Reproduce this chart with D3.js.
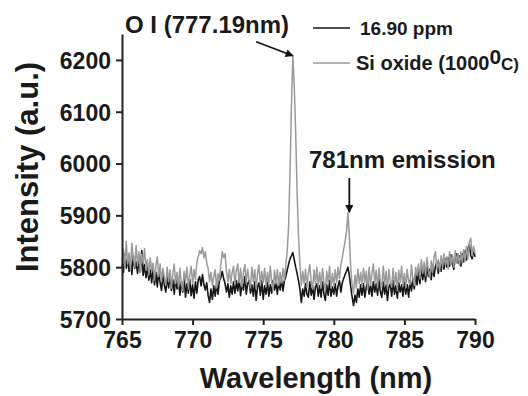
<!DOCTYPE html>
<html lang="en">
<head>
    <meta charset="UTF-8">
    <title>OES spectrum</title>
    <script src="https://cdn.jsdelivr.net/npm/d3@7"></script>
    <style>
        html, body {
            margin: 0;
            background: white;
        }
        svg text {
            font-family: "Liberation Sans", Arial, sans-serif;
            font-weight: bold;
            fill: #1a1a1a;
        }
    </style>
</head>
<body>
    <div id="vis"></div>
    <script>

        var width = 528
        var height = 396

        // wavelength grid, 0.1 nm steps from 765 to 790
        var wl_start = 765
        var wl_step = 0.1

        // 16.90 ppm (black)
        var ppm_values = [
            5805, 5790, 5825, 5798, 5818, 5792, 5812, 5786, 5822, 5798,
            5810, 5788, 5815, 5790, 5832, 5784, 5805, 5780, 5800, 5775,
            5795, 5770, 5798, 5766, 5790, 5762, 5792, 5770, 5755, 5786,
            5765, 5752, 5782, 5760, 5788, 5755, 5776, 5748, 5780, 5758,
            5774, 5746, 5772, 5752, 5780, 5742, 5768, 5750, 5776, 5745,
            5766, 5740, 5772, 5750, 5776, 5782, 5764, 5786, 5766, 5756,
            5770, 5745, 5732, 5758, 5738, 5764, 5744, 5768, 5748, 5774,
            5780, 5792, 5778, 5768, 5752, 5768, 5742, 5764, 5748, 5772,
            5750, 5774, 5754, 5778, 5745, 5770, 5756, 5782, 5748, 5768,
            5774, 5750, 5766, 5744, 5772, 5736, 5762, 5770, 5746, 5774,
            5738, 5764, 5748, 5772, 5744, 5766, 5750, 5774, 5756, 5770,
            5748, 5772, 5756, 5776, 5754, 5774, 5782, 5794, 5806, 5816,
            5822, 5828, 5814, 5800, 5788, 5774, 5758, 5732, 5758, 5744,
            5768, 5748, 5742, 5772, 5746, 5764, 5738, 5762, 5768, 5744,
            5764, 5742, 5772, 5748, 5736, 5766, 5746, 5774, 5744, 5762,
            5748, 5768, 5744, 5764, 5774, 5752, 5770, 5778, 5786, 5792,
            5800, 5784, 5762, 5742, 5726, 5746, 5732, 5758, 5742, 5766,
            5746, 5768, 5742, 5762, 5774, 5748, 5766, 5744, 5772, 5752,
            5768, 5746, 5776, 5752, 5742, 5772, 5748, 5766, 5736, 5762,
            5768, 5744, 5774, 5748, 5764, 5740, 5770, 5752, 5766, 5744,
            5772, 5748, 5766, 5742, 5774, 5754, 5778, 5758, 5788, 5766,
            5792, 5768, 5798, 5776, 5796, 5772, 5802, 5782, 5796, 5776,
            5804, 5782, 5802, 5810, 5788, 5808, 5792, 5814, 5796, 5816,
            5800, 5818, 5802, 5824, 5806, 5796, 5818, 5826, 5808, 5822,
            5802, 5826, 5810, 5832, 5814, 5836, 5844, 5822, 5816, 5834,
            5820
        ]

        // Si oxide 1000 C (gray)
        var oxide_values = [
            5812, 5835, 5798, 5850, 5806, 5828, 5795, 5846, 5818, 5800,
            5842, 5803, 5830, 5790, 5825, 5808, 5836, 5794, 5815, 5785,
            5818, 5792, 5808, 5775, 5802, 5820, 5782, 5806, 5772, 5798,
            5780, 5765, 5800, 5772, 5795, 5760, 5788, 5806, 5768, 5790,
            5762, 5798, 5770, 5755, 5792, 5772, 5800, 5758, 5785, 5802,
            5768, 5795, 5776, 5810, 5820, 5832, 5826, 5838, 5818, 5830,
            5808, 5798, 5772, 5790, 5765, 5782, 5795, 5760, 5788, 5775,
            5806, 5830, 5818, 5826, 5790, 5772, 5796, 5768, 5790, 5802,
            5766, 5794, 5806, 5770, 5798, 5762, 5790, 5805, 5768, 5796,
            5775, 5760, 5800, 5772, 5795, 5758, 5788, 5804, 5765, 5792,
            5770, 5798, 5762, 5790, 5766, 5802, 5772, 5755, 5794, 5768,
            5795, 5765, 5790, 5770, 5798, 5775, 5805, 5830, 5880, 5985,
            6110, 6208, 6150, 6060, 5945, 5860, 5805, 5765, 5792, 5768,
            5796, 5762, 5788, 5805, 5770, 5758, 5795, 5768, 5800, 5764,
            5790, 5760, 5798, 5772, 5755, 5792, 5768, 5802, 5760, 5788,
            5764, 5795, 5770, 5800, 5778, 5805, 5818, 5835, 5850, 5868,
            5905, 5860, 5798, 5765, 5750, 5785, 5760, 5796, 5768, 5790,
            5762, 5798, 5770, 5792, 5756, 5800, 5765, 5788, 5806, 5768,
            5794, 5760, 5798, 5772, 5762, 5802, 5766, 5792, 5758, 5796,
            5770, 5762, 5798, 5765, 5790, 5755, 5794, 5770, 5802, 5764,
            5788, 5760, 5796, 5772, 5766, 5804, 5778, 5765, 5800, 5785,
            5806, 5778, 5815, 5788, 5810, 5784, 5818, 5792, 5780, 5812,
            5790, 5820, 5830, 5796, 5815, 5792, 5822, 5800, 5826, 5804,
            5820, 5796, 5830, 5806, 5824, 5800, 5832, 5808, 5826, 5804,
            5830, 5808, 5834, 5812, 5840, 5816, 5848, 5856, 5822, 5840,
            5826
        ]

        var x_ticks = [765, 770, 775, 780, 785, 790]
        var y_ticks = [5700, 5800, 5900, 6000, 6100, 6200]

        var series_names = ["16.90 ppm", "Si oxide (1000"]
        var series_colours = ["#161616", "#9a9a9a"]

        var svg = d3.select('#vis')
                    .append('svg')
                        .attr('width', width)
                        .attr('height', height);

        var x_scale = d3.scaleLinear()
                    .domain([765, 790])
                    .range([122, 475]);

        var y_scale = d3.scaleLinear()
                    .domain([5700, 6250])
                    .range([319, 34]);

        function toPoints(values){
            return values.map(function(v, i){
                return { wl: wl_start + i * wl_step, v: v };
            });
        }

        var line = d3.line()
                    .x(function(d){ return x_scale(d.wl); })
                    .y(function(d){ return y_scale(d.v); });

        // black first, gray drawn over it
        svg.append('path')
            .datum(toPoints(ppm_values))
            .attr('fill', 'none')
            .attr('stroke', series_colours[0])
            .attr('stroke-width', 1.6)
            .attr('stroke-linejoin', 'round')
            .attr('d', line);

        svg.append('path')
            .datum(toPoints(oxide_values))
            .attr('fill', 'none')
            .attr('stroke', series_colours[1])
            .attr('stroke-width', 1.5)
            .attr('stroke-linejoin', 'round')
            .attr('d', line);

        // axes
        var x_axis = d3.axisBottom(x_scale)
                    .tickValues(x_ticks)
                    .tickSizeInner(6)
                    .tickSizeOuter(0)
                    .tickPadding(6)
                    .tickFormat(d3.format('d'));

        var x_minor = d3.axisBottom(x_scale)
                    .tickValues([767.5, 772.5, 777.5, 782.5, 787.5])
                    .tickSize(3)
                    .tickSizeOuter(0)
                    .tickFormat('');

        var y_axis = d3.axisLeft(y_scale)
                    .tickValues(y_ticks)
                    .tickSizeInner(6)
                    .tickSizeOuter(0)
                    .tickPadding(5)
                    .tickFormat(d3.format('d'));

        var y_minor = d3.axisLeft(y_scale)
                    .tickValues([5750, 5850, 5950, 6050, 6150])
                    .tickSize(3)
                    .tickSizeOuter(0)
                    .tickFormat('');

        var gx = svg.append('g')
            .attr('class', 'x axis')
            .attr('transform', 'translate(0,' + y_scale(5700) + ')');
        gx.call(x_minor);
        gx.call(x_axis);

        var gy = svg.append('g')
            .attr('class', 'y axis')
            .attr('transform', 'translate(' + x_scale(765) + ',0)');
        gy.call(y_minor);
        gy.call(y_axis);

        svg.selectAll('.axis path, .axis line')
            .attr('stroke', '#222')
            .attr('stroke-width', 2);

        svg.selectAll('.axis text')
            .attr('font-size', 23)
            .attr('font-family', '"Liberation Sans", Arial, sans-serif')
            .attr('font-weight', 'bold')
            .attr('fill', '#1a1a1a');

        gx.selectAll('text').attr('dy', '0.74em');
        gy.selectAll('text').attr('dy', '0.36em');

        // axis titles
        svg.append('text')
            .attr('x', 316)
            .attr('y', 388)
            .attr('text-anchor', 'middle')
            .attr('font-size', 29)
            .text('Wavelength (nm)');

        svg.append('text')
            .attr('transform', 'translate(38,167)rotate(-90)')
            .attr('text-anchor', 'middle')
            .attr('font-size', 31)
            .text('Intensity (a.u.)');

        // legend
        var legend = svg.append('g');
        var leg_y = [28, 63];
        series_names.forEach(function(name, i){
            legend.append('line')
                .attr('x1', 313)
                .attr('x2', 350)
                .attr('y1', leg_y[i])
                .attr('y2', leg_y[i])
                .attr('stroke', series_colours[i])
                .attr('stroke-width', 1.4);
        });

        legend.append('text')
            .attr('x', 360)
            .attr('y', leg_y[0] + 7)
            .attr('font-size', 19)
            .text(series_names[0]);

        var leg2 = legend.append('text')
            .attr('x', 356)
            .attr('y', leg_y[1] + 7)
            .attr('font-size', 20);
        leg2.append('tspan').text(series_names[1]);
        leg2.append('tspan').attr('font-size', 21).attr('dy', -6).text('0');
        leg2.append('tspan').attr('font-size', 17).attr('dy', 6).text('C)');

        // annotations
        svg.append('defs')
            .append('marker')
                .attr('id', 'head')
                .attr('viewBox', '0 0 10 10')
                .attr('refX', 9)
                .attr('refY', 5)
                .attr('markerWidth', 9)
                .attr('markerHeight', 8)
                .attr('markerUnits', 'userSpaceOnUse')
                .attr('orient', 'auto')
            .append('path')
                .attr('d', 'M0,0L10,5L0,10Z')
                .attr('fill', '#111');

        svg.append('text')
            .attr('x', 125)
            .attr('y', 33)
            .attr('font-size', 24)
            .text('O I (777.19nm)');

        svg.append('line')
            .attr('x1', x_scale(774.5))
            .attr('y1', y_scale(6235))
            .attr('x2', x_scale(777.1))
            .attr('y2', y_scale(6208))
            .attr('stroke', '#111')
            .attr('stroke-width', 1.8)
            .attr('marker-end', 'url(#head)');

        svg.append('text')
            .attr('x', 309)
            .attr('y', 168)
            .attr('font-size', 24)
            .text('781nm emission');

        svg.append('line')
            .attr('x1', x_scale(781.1))
            .attr('y1', y_scale(5972))
            .attr('x2', x_scale(781.1))
            .attr('y2', y_scale(5906))
            .attr('stroke', '#111')
            .attr('stroke-width', 1.8)
            .attr('marker-end', 'url(#head)');

    </script>
</body>
</html>
